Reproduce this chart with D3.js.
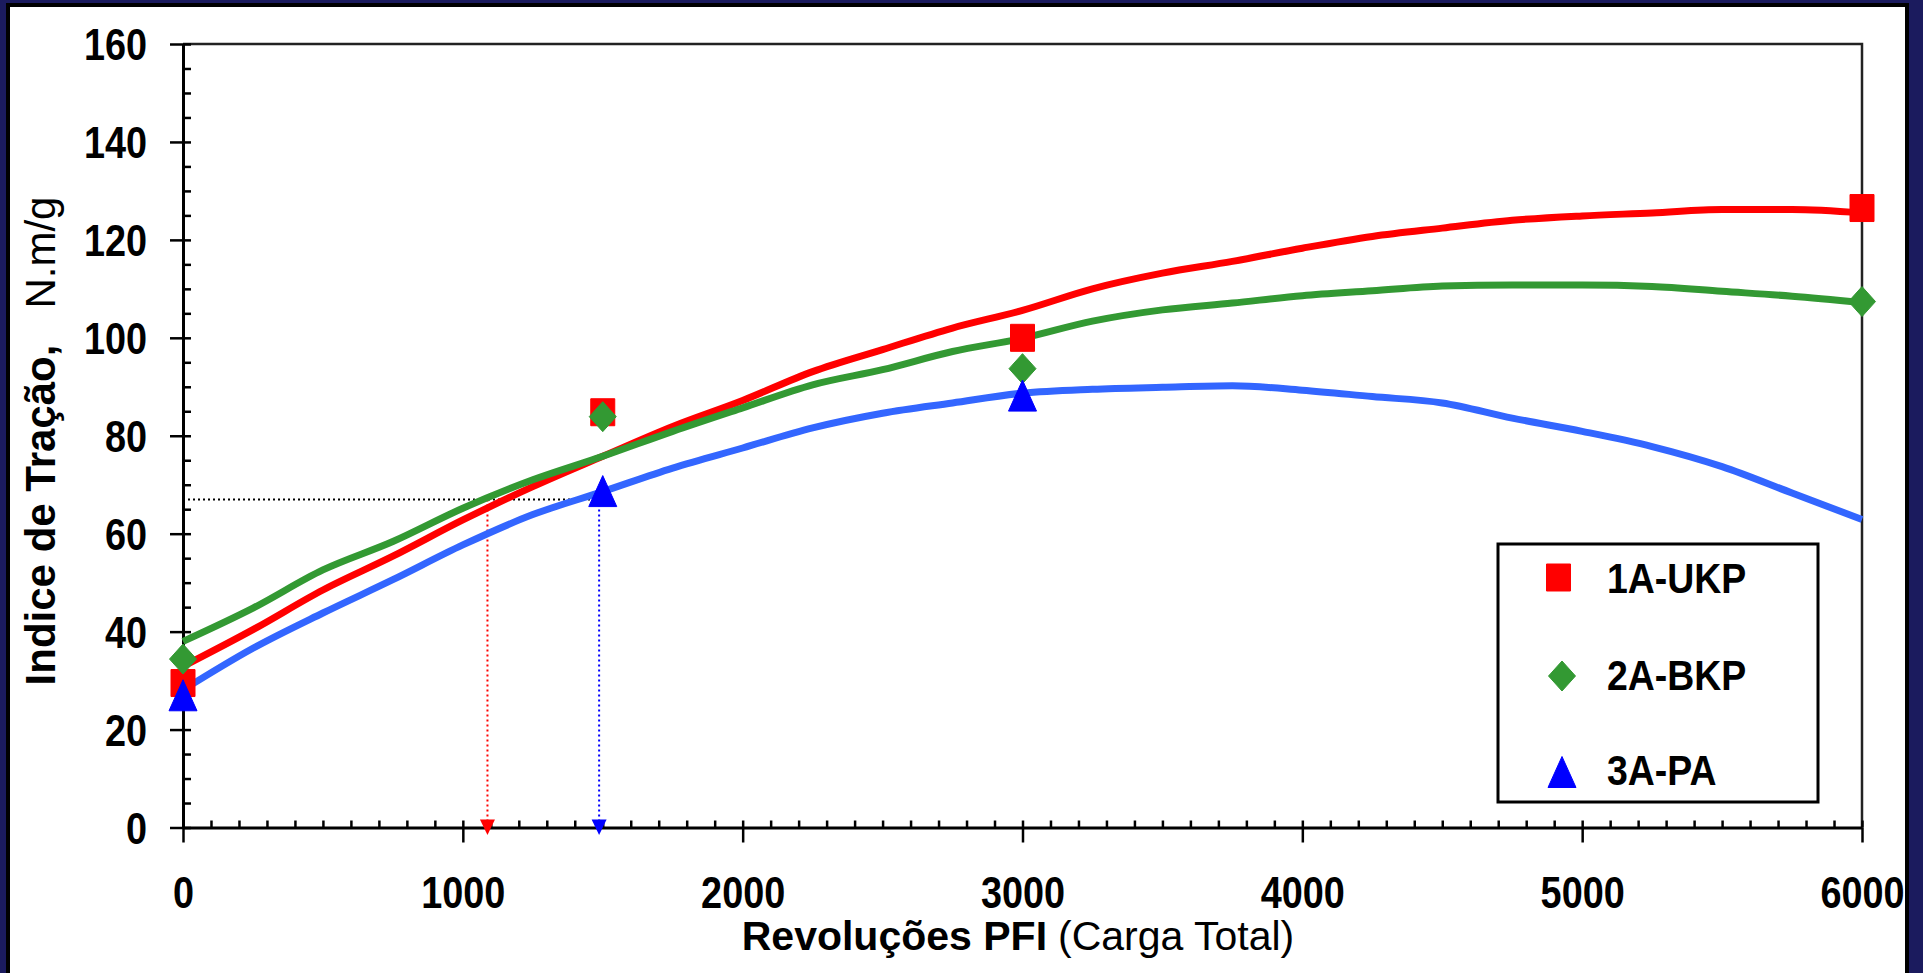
<!DOCTYPE html>
<html>
<head>
<meta charset="utf-8">
<script src="https://cdn.jsdelivr.net/npm/d3@7"></script>
<style>
  body { margin: 0; background: #1b1b5e; }
  svg { display: block; font-family: "Liberation Sans", Arial, sans-serif; }
</style>
</head>
<body>
<div class="canvas"></div>
<script>
const width = 1923
const height = 973

// curves
const revs = [0, 250, 500, 750, 1000, 1250, 1500, 1750, 2000, 2250, 2500, 2750, 3000,
    3250, 3500, 3750, 4000, 4250, 4500, 4750, 5000, 5250, 5500, 5750, 6000]
const ukpCurve = [32.9, 40.4, 48.5, 55.4, 62.8, 69.6, 75.8, 81.9, 87.2, 93.1, 97.6, 102.0, 105.6,
    110.0, 113.2, 115.6, 118.3, 120.7, 122.4, 124.0, 124.9, 125.5, 126.2, 126.2, 125.5]
const bkpCurve = [38.0, 44.8, 52.6, 58.4, 65.2, 71.0, 75.8, 80.9, 85.7, 90.4, 93.5, 97.2, 99.9,
    103.4, 105.7, 107.1, 108.6, 109.6, 110.6, 110.8, 110.8, 110.5, 109.5, 108.5, 107.2]
const paCurve = [28.1, 36.6, 43.8, 50.6, 57.7, 63.9, 68.6, 73.4, 77.5, 81.6, 84.6, 86.7, 88.7,
    89.5, 89.9, 90.2, 89.3, 88.0, 86.7, 83.6, 80.9, 77.8, 73.7, 68.3, 62.9]

// measured points
const revsMeasured = [0, 1500, 3000, 6000]
const ukpMeasured = [29.5, 84.8, 100.0, 126.5]
const bkpMeasured = [34.4, 83.9, 93.7, 107.4]
const paMeasured = [27.0, 68.7, 88.2, null]

const seriesNames = ["1A-UKP", "2A-BKP", "3A-PA"]
const lineColors = ["#ff0000", "#339933", "#3366ff"]
const markerColors = ["#ff0000", "#339933", "#0000ff"]
const markerShapes = ["square", "diamond", "triangle"]

const xTicks = [0, 1000, 2000, 3000, 4000, 5000, 6000]
const yTicks = [0, 20, 40, 60, 80, 100, 120, 140, 160]

// reading guides
const refLevel = 67
const ukpAtRef = 1088
const paAtRef = 1487

const xTitleBold = "Revoluções PFI"
const xTitleRest = "(Carga Total)"
const yTitleBold = "Indice de Tração,"
const yTitleRest = "N.m/g"

const svg = d3.select(".canvas")
    .append("svg")
    .attr("width", width)
    .attr("height", height)

svg.append("rect").attr("width", width).attr("height", height).attr("fill", "#1b1b5e")
svg.append("rect")
    .attr("x", 8).attr("y", 5)
    .attr("width", 1899).attr("height", 1000)
    .attr("fill", "white")
    .attr("stroke", "#000")
    .attr("stroke-width", 4)

const x = d3.scaleLinear().domain([0, 6000]).range([183, 1862])
const y = d3.scaleLinear().domain([0, 160]).range([827.5, 44])

const sx = 0.86

// frame top / right
svg.append("path")
    .attr("d", `M${x(0)},${y(160)}H${x(6000)}V${y(0)}`)
    .attr("fill", "none")
    .attr("stroke", "#222")
    .attr("stroke-width", 2.5)

// minor ticks (inside)
svg.append("g")
    .attr("transform", `translate(0,${y(0)})`)
    .call(d3.axisTop(x).tickValues(d3.range(0, 6001, 100)).tickSize(7).tickFormat(""))
    .call(g => g.select(".domain").remove())
    .selectAll("line").attr("stroke-width", 2.5)

svg.append("g")
    .attr("transform", `translate(${x(0)},0)`)
    .call(d3.axisRight(y).tickValues(d3.range(0, 161, 5)).tickSize(8).tickFormat(""))
    .call(g => g.select(".domain").remove())
    .selectAll("line").attr("stroke-width", 2.5)

// major axes
const xAxis = svg.append("g")
    .attr("transform", `translate(0,${y(0)})`)
    .call(d3.axisBottom(x).tickValues(xTicks).tickSize(15).tickSizeOuter(0).tickFormat(d3.format("d")))

xAxis.select(".domain").attr("stroke-width", 3)
xAxis.selectAll("line").attr("stroke-width", 2.5)
xAxis.selectAll("text")
    .attr("y", 80.5)
    .attr("dy", 0)
    .attr("transform", `scale(${sx},1)`)
    .attr("fill", "#000")
    .style("font-size", "44px")
    .style("font-weight", "bold")

const yAxis = svg.append("g")
    .attr("transform", `translate(${x(0)},0)`)
    .call(d3.axisLeft(y).tickValues(yTicks).tickSize(13).tickSizeOuter(0).tickFormat(d3.format("d")))

yAxis.select(".domain").attr("stroke-width", 3)
yAxis.selectAll("line").attr("stroke-width", 2.5)
yAxis.selectAll("text")
    .attr("x", -36 / sx)
    .attr("dy", "0.36em")
    .attr("transform", `scale(${sx},1)`)
    .attr("fill", "#000")
    .style("font-size", "44px")
    .style("font-weight", "bold")

// axis titles
const xTitle = svg.append("text")
    .attr("x", 1018)
    .attr("y", 950)
    .attr("text-anchor", "middle")
    .style("font-size", "41px")
xTitle.append("tspan").attr("font-weight", "bold").text(xTitleBold)
xTitle.append("tspan").attr("dx", 11).text(xTitleRest)

const yTitle = svg.append("text")
    .attr("transform", "translate(55,441) rotate(-90)")
    .attr("text-anchor", "middle")
    .style("font-size", "42px")
yTitle.append("tspan").attr("font-weight", "bold").text(yTitleBold)
yTitle.append("tspan").attr("dx", 36).text(yTitleRest)

// reading guides
const guides = svg.append("g")
guides.append("line")
    .attr("x1", x(0)).attr("x2", x(paAtRef))
    .attr("y1", y(refLevel)).attr("y2", y(refLevel))
    .attr("stroke", "#000").attr("stroke-width", 2).attr("stroke-dasharray", "2,3")

const drops = [[ukpAtRef, "#ff0000"], [paAtRef, "#0000ff"]]
drops.forEach(([v, c]) => {
    guides.append("line")
        .attr("x1", x(v)).attr("x2", x(v))
        .attr("y1", y(refLevel)).attr("y2", y(0) - 6)
        .attr("stroke", c).attr("stroke-width", 2).attr("stroke-dasharray", "2,3")
    guides.append("path")
        .attr("transform", `translate(${x(v)},${y(0)})`)
        .attr("d", "M-7.5,-8L7.5,-8L0,7.5Z")
        .attr("fill", c)
})

// curves
const curves = [ukpCurve, bkpCurve, paCurve]
const line = d3.line()
    .x((d, i) => x(revs[i]))
    .y(d => y(d))
    .curve(d3.curveMonotoneX)

svg.append("g")
    .selectAll("path")
    .data(curves)
    .enter()
    .append("path")
    .attr("d", line)
    .attr("fill", "none")
    .attr("stroke", (d, i) => lineColors[i])
    .attr("stroke-width", 7)
    .attr("stroke-linejoin", "round")

function markerPath(shape) {
    if (shape === "square") return "M-12,-13.5H12V13.5H-12Z"
    if (shape === "diamond") return "M0,-15L13.5,0L0,15L-13.5,0Z"
    return "M0,-15.5L14,15.5H-14Z"
}

// measured markers
const measured = [ukpMeasured, bkpMeasured, paMeasured]
measured.forEach((vals, s) => {
    svg.append("g")
        .selectAll("path")
        .data(vals.map((v, i) => ({ r: revsMeasured[i], v })).filter(d => d.v !== null))
        .enter()
        .append("path")
        .attr("transform", d => `translate(${x(d.r)},${y(d.v)})`)
        .attr("d", markerPath(markerShapes[s]))
        .attr("fill", markerColors[s])
        .attr("stroke", markerColors[s])
        .attr("stroke-width", 1)
        .attr("stroke-linejoin", "round")
})

// legend
const legend = svg.append("g")
legend.append("rect")
    .attr("x", 1498).attr("y", 544)
    .attr("width", 320).attr("height", 258)
    .attr("fill", "white")
    .attr("stroke", "#000")
    .attr("stroke-width", 3)

const legendRows = [577.5, 676, 772]
seriesNames.forEach((name, i) => {
    legend.append("path")
        .attr("transform", `translate(${i === 0 ? 1558.5 : 1562},${legendRows[i]})`)
        .attr("d", markerPath(markerShapes[i]))
        .attr("fill", markerColors[i])
        .attr("stroke", markerColors[i])
        .attr("stroke-width", 1)
        .attr("stroke-linejoin", "round")
    legend.append("g")
        .attr("transform", `translate(1607,${[593, 690, 785][i]})`)
        .append("text")
        .attr("transform", "scale(0.87,1)")
        .style("font-size", "43px")
        .style("font-weight", "bold")
        .text(name)
})
</script>
</body>
</html>
